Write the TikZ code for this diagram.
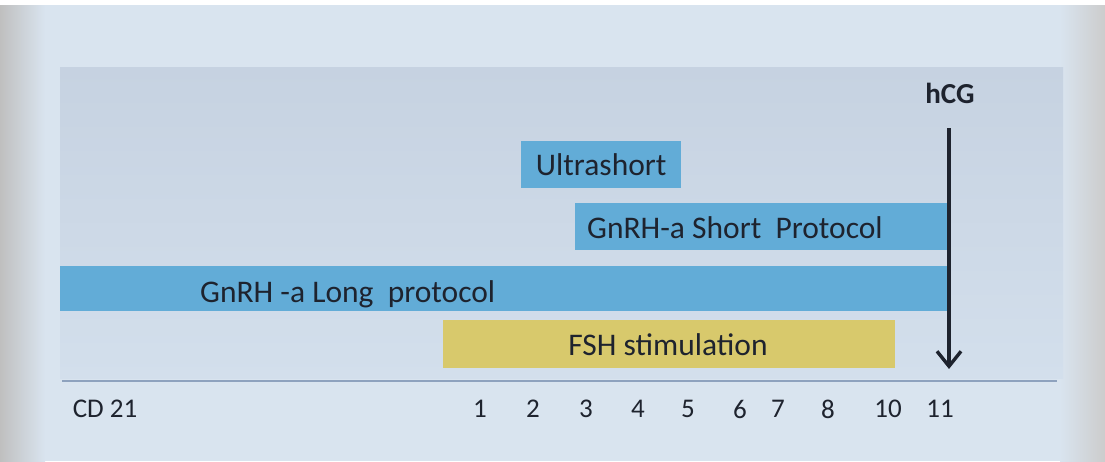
\documentclass[tikz,border=0pt]{standalone}
\usepackage{fontspec}
\setmainfont{Carlito}
\usetikzlibrary{arrows.meta}
\definecolor{bgc}{HTML}{D9E4EF}
\definecolor{panel}{HTML}{C6D2E1}
\definecolor{panellow}{HTML}{D3DFEC}
\definecolor{barblue}{HTML}{62ACD7}
\definecolor{baryel}{HTML}{D8C96C}
\definecolor{axisc}{HTML}{8EA2BE}
\definecolor{txt}{HTML}{1E232E}
\tikzset{
  bar/.style={draw=none, inner sep=0pt, anchor=north west},
  lbl/.style={text=txt, font=\fontsize{31.5}{34}\selectfont, inner sep=0pt},
  tick/.style={text=txt, font=\fontsize{27}{29}\selectfont, inner sep=0pt},
}
\begin{document}
\begin{tikzpicture}[x=1pt,y=-1pt]
\useasboundingbox (0,0) rectangle (1105,461);
% photo background
\fill[bgc] (0,0) rectangle (1105,461);
\shade[left color=gray!50, right color=bgc] (0,0) rectangle (45,461);
\shade[left color=bgc, right color=gray!40] (1060,0) rectangle (1105,461);
\fill[white] (0,0) rectangle (1105,5);
% panel
\shade[top color=panel, bottom color=panellow] (60,67) rectangle (1063,378);
% bars
\node[bar, fill=barblue, minimum width=160, minimum height=47] (ultra) at (521,141) {};
\node[bar, fill=barblue, minimum width=372, minimum height=47] (short) at (575,203) {};
\node[bar, fill=barblue, minimum width=887, minimum height=45] (long) at (60,266) {};
\node[bar, fill=baryel, minimum width=452, minimum height=48] (fsh) at (443,320) {};
% labels
\node[lbl] (ultraT) at (ultra.center) {Ultrashort};
\node[lbl, anchor=west] (shortT) at (587,228) {GnRH-a Short\ \ Protocol};
\node[lbl, anchor=west] (longT) at (200,294) {GnRH -a Long\ \ protocol};
\node[lbl] (fshT) at (668,345) {FSH stimulation};
% hCG arrow
\node[lbl, font=\fontsize{29}{32}\selectfont\bfseries] (hcg) at (950,93) {hCG};
\coordinate (a1) at (949,128);
\coordinate (a2) at (949,369);
\draw[line width=3.4pt, txt, -{Straight Barb[length=15pt,width=24pt,line width=3.4pt]}] (a1) -- (a2);
% axis
\coordinate (x0) at (62,381);
\coordinate (x1) at (1057,381);
\draw[axisc, line width=2pt] (x0) -- (x1);
\node[tick] (cd) at (105,409) {CD 21};
\foreach \n/\x in {1/480,2/533,3/586,4/638,5/688,6/740,7/778,8/828,10/888,11/940}
  \node[tick] (t\n) at (\x,409) {\n};
\end{tikzpicture}
\end{document}
